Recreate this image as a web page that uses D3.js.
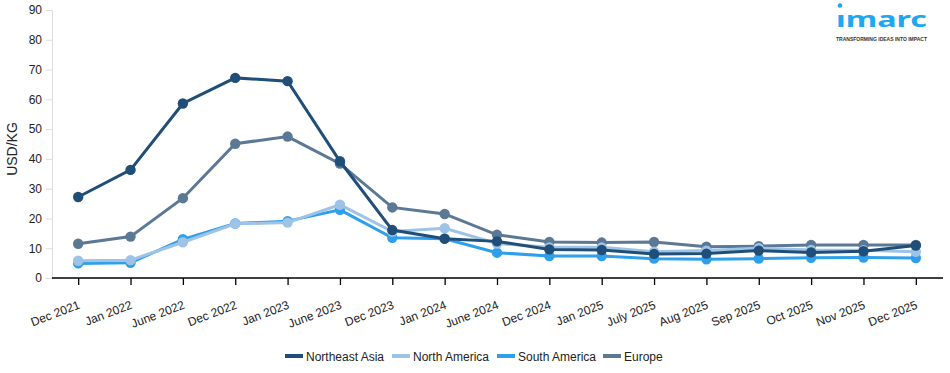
<!DOCTYPE html>
<html>
<head>
<meta charset="utf-8">
<script src="https://cdn.jsdelivr.net/npm/d3@7"></script>
<style>
  body { margin: 0; background: #fff; }
  svg text { font-family: "Liberation Sans", Arial, sans-serif; }
</style>
</head>
<body>
<script>
var months = ["Dec 2021", "Jan 2022", "June 2022", "Dec 2022", "Jan 2023", "June 2023",
              "Dec 2023", "Jan 2024", "June 2024", "Dec 2024", "Jan 2025", "July 2025",
              "Aug 2025", "Sep 2025", "Oct 2025", "Nov 2025", "Dec 2025"]

var northeastAsia = [27.2, 36.3, 58.6, 67.2, 66.1, 39.2, 16.1, 13.2, 12.3, 9.6, 9.4, 8.1, 8.2, 9.2, 8.6, 9.0, 10.9]
var northAmerica  = [5.8, 6.0, 12.0, 18.2, 18.6, 24.6, 15.6, 16.7, 11.6, 10.3, 10.3, 8.8, 9.2, 10.0, 9.4, 9.3, 8.8]
var southAmerica  = [4.9, 5.1, 13.0, 18.3, 19.1, 22.9, 13.5, 13.2, 8.5, 7.4, 7.4, 6.5, 6.3, 6.5, 6.8, 6.9, 6.7]
var europe        = [11.5, 13.9, 26.8, 45.1, 47.5, 38.4, 23.7, 21.5, 14.5, 12.1, 11.9, 12.1, 10.5, 10.7, 11.1, 11.1, 11.1]

var yTicks = [0, 10, 20, 30, 40, 50, 60, 70, 80, 90]

var series = [
  {name: "Northeast Asia", values: northeastAsia, color: "#1f4e79"},
  {name: "North America", values: northAmerica, color: "#9dc3e6"},
  {name: "South America", values: southAmerica, color: "#2e9fea"},
  {name: "Europe", values: europe, color: "#5b7894"}
]

var width = 950, height = 373
var svg = d3.select("body").append("svg")
  .attr("width", width)
  .attr("height", height)

var x = d3.scalePoint().domain(months).range([52, 942]).padding(0.5)
var y = d3.scaleLinear().domain([0, 90]).range([278, 10])

var font = "'Liberation Sans', Arial, sans-serif"

// y axis
var yAxis = svg.append("g")
  .attr("transform", "translate(52,0)")
  .call(d3.axisLeft(y).tickValues(yTicks).tickSize(6).tickPadding(4))
yAxis.select(".domain").attr("stroke", "#dddddd")
yAxis.selectAll(".tick line").attr("stroke", "#dddddd")
yAxis.selectAll("text").attr("font-size", 12).attr("fill", "#222")
  .style("font-family", font)

svg.append("text")
  .attr("transform", "translate(17,149) rotate(-90)")
  .attr("text-anchor", "middle")
  .attr("font-size", 14)
  .attr("fill", "#222")
  .text("USD/KG")

// x axis
var xAxis = svg.append("g")
  .attr("transform", "translate(0,278)")
  .call(d3.axisBottom(x).tickSize(7).tickSizeOuter(0))
xAxis.select(".domain").attr("stroke", "#000").attr("stroke-width", 1.5)
  .attr("d", "M52,0H943")
xAxis.selectAll(".tick line").attr("stroke", "#000").attr("stroke-width", 1.3)
xAxis.selectAll("text")
  .attr("font-size", 12)
  .attr("fill", "#222")
  .style("font-family", font)
  .attr("text-anchor", "end")
  .attr("x", 0).attr("y", 0)
  .attr("dy", null)
  .attr("transform", "translate(2,30) rotate(-21)")

// lines, drawn back to front
var line = d3.line()
  .x(function(d, i) { return x(months[i]) })
  .y(function(d) { return y(d) })

var drawOrder = series.slice().reverse()
drawOrder.forEach(function(s) {
  var g = svg.append("g")
  g.append("path")
    .datum(s.values)
    .attr("d", line)
    .attr("fill", "none")
    .attr("stroke", s.color)
    .attr("stroke-width", 3)
  g.selectAll("circle")
    .data(s.values).enter()
    .append("circle")
    .attr("cx", function(d, i) { return x(months[i]) })
    .attr("cy", function(d) { return y(d) })
    .attr("r", 5.2)
    .attr("fill", s.color)
})

// legend
var legendX = [285, 392, 497, 603]
var legend = svg.selectAll(".legend")
  .data(series).enter()
  .append("g")
  .attr("transform", function(d, i) { return "translate(" + legendX[i] + ",356)" })
legend.append("rect")
  .attr("x", 0).attr("y", -2)
  .attr("width", 18).attr("height", 4)
  .attr("fill", function(d) { return d.color })
legend.append("text")
  .attr("x", 21).attr("y", 4.5)
  .attr("font-size", 12)
  .attr("fill", "#222")
  .style("font-family", font)
  .text(function(d) { return d.name })

// logo
svg.append("circle")
  .attr("cx", 840).attr("cy", 5.5).attr("r", 2.3)
  .attr("fill", "#1ea7f2")
svg.append("text")
  .attr("x", 836).attr("y", 27)
  .attr("textLength", 91)
  .attr("lengthAdjust", "spacingAndGlyphs")
  .attr("font-size", 22)
  .attr("font-weight", "bold")
  .attr("fill", "#1ea7f2")
  .style("font-family", "'Noto Sans', sans-serif")
  .text("ımarc")
svg.append("text")
  .attr("x", 836).attr("y", 41)
  .attr("textLength", 91)
  .attr("lengthAdjust", "spacingAndGlyphs")
  .attr("font-size", 5)
  .attr("font-weight", "bold")
  .attr("fill", "#333")
  .style("font-family", font)
  .text("TRANSFORMING IDEAS INTO IMPACT")
</script>
</body>
</html>
